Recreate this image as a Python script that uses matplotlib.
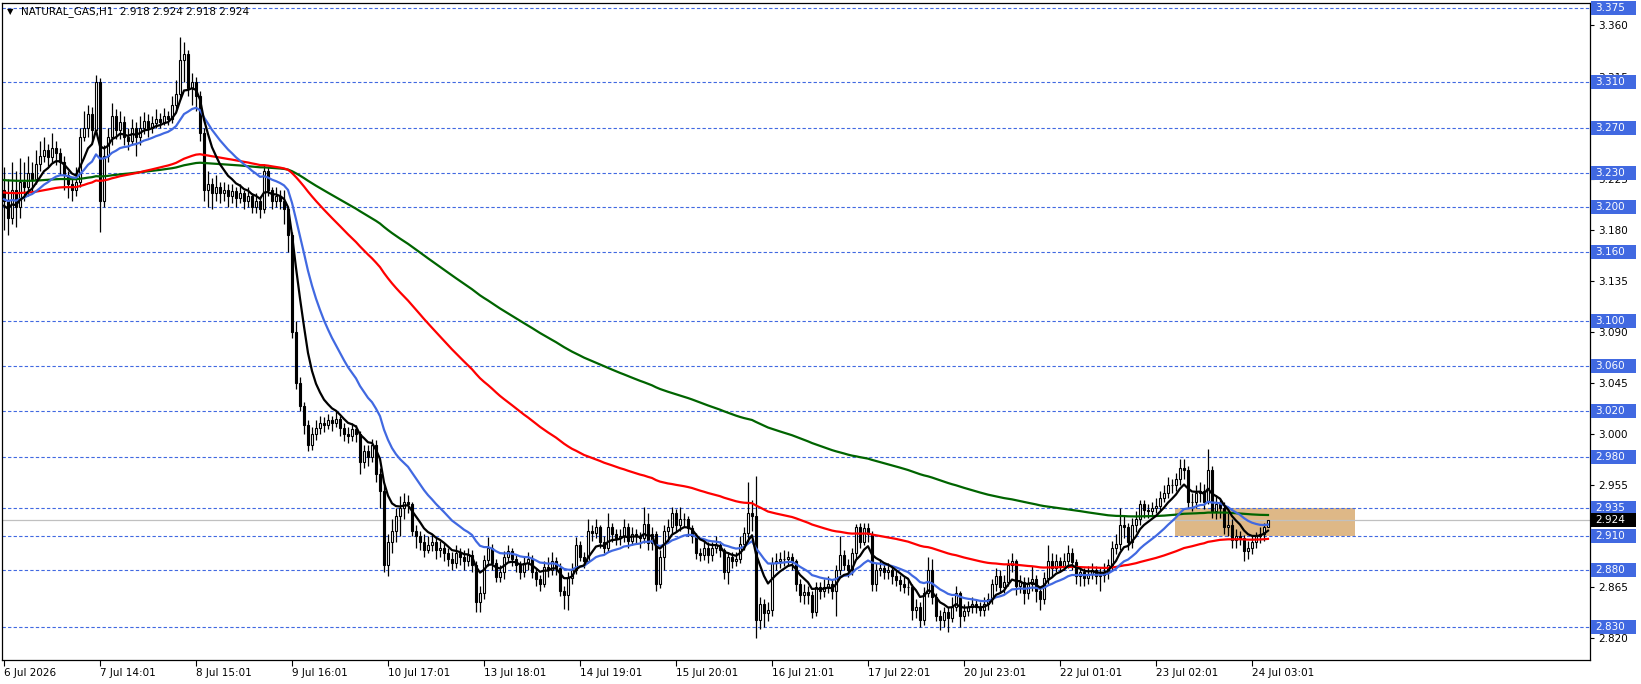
import numpy as np
import matplotlib
matplotlib.use('Agg')
import matplotlib.pyplot as plt
import matplotlib.transforms as mtransforms
from matplotlib.patches import Rectangle

# ---- data (hourly bars, NATURAL_GAS H1) ----
first_open = 3.215

closes = [
    3.205, 3.190, 3.215, 3.200, 3.222, 3.218, 3.230, 3.225, 3.238, 3.245,  # 0
    3.250, 3.244, 3.252, 3.248, 3.240, 3.228, 3.220, 3.215, 3.222, 3.262,  # 10
    3.270, 3.282, 3.268, 3.310, 3.205, 3.245, 3.262, 3.280, 3.268, 3.275,  # 20
    3.262, 3.258, 3.270, 3.262, 3.270, 3.276, 3.270, 3.274, 3.278, 3.275,  # 30
    3.280, 3.278, 3.290, 3.300, 3.330, 3.335, 3.305, 3.310, 3.298, 3.265,  # 40
    3.215, 3.220, 3.212, 3.218, 3.212, 3.215, 3.210, 3.214, 3.208, 3.212,  # 50
    3.205, 3.210, 3.200, 3.205, 3.198, 3.232, 3.215, 3.205, 3.210, 3.205,  # 60
    3.198, 3.175, 3.090, 3.045, 3.025, 3.008, 2.990, 3.000, 3.005, 3.010,  # 70
    3.008, 3.012, 3.010, 3.013, 3.005, 3.000, 2.998, 3.004, 3.000, 2.975,  # 80
    2.985, 2.980, 2.990, 2.965, 2.950, 2.885, 2.905, 2.915, 2.928, 2.935,  # 90
    2.940, 2.938, 2.915, 2.910, 2.905, 2.898, 2.902, 2.905, 2.898, 2.900,  # 100
    2.895, 2.890, 2.886, 2.895, 2.892, 2.888, 2.893, 2.885, 2.852, 2.860,  # 110
    2.889, 2.900, 2.886, 2.874, 2.878, 2.892, 2.897, 2.890, 2.885, 2.878,  # 120
    2.886, 2.890, 2.878, 2.872, 2.868, 2.883, 2.880, 2.888, 2.882, 2.862,  # 130
    2.858, 2.873, 2.880, 2.902, 2.892, 2.888, 2.915, 2.913, 2.918, 2.905,  # 140
    2.900, 2.918, 2.912, 2.908, 2.910, 2.918, 2.906, 2.912, 2.910, 2.908,  # 150
    2.921, 2.904, 2.912, 2.868, 2.892, 2.915, 2.918, 2.930, 2.920, 2.925,  # 160
    2.925, 2.917, 2.910, 2.895, 2.893, 2.900, 2.893, 2.900, 2.902, 2.898,  # 170
    2.878, 2.892, 2.888, 2.890, 2.903, 2.913, 2.930, 2.928, 2.836, 2.850,  # 180
    2.842, 2.845, 2.886, 2.888, 2.890, 2.890, 2.892, 2.888, 2.868, 2.858,  # 190
    2.861, 2.858, 2.843, 2.865, 2.862, 2.865, 2.868, 2.862, 2.880, 2.893,  # 200
    2.885, 2.880, 2.895, 2.918, 2.905, 2.917, 2.912, 2.868, 2.880, 2.882,  # 210
    2.878, 2.880, 2.875, 2.871, 2.868, 2.865, 2.865, 2.845, 2.848, 2.836,  # 220
    2.860, 2.880, 2.856, 2.840, 2.836, 2.843, 2.838, 2.848, 2.860, 2.840,  # 230
    2.844, 2.848, 2.850, 2.848, 2.845, 2.850, 2.855, 2.868, 2.875, 2.865,  # 240
    2.870, 2.885, 2.888, 2.866, 2.870, 2.860, 2.868, 2.872, 2.862, 2.855,  # 250
    2.873, 2.888, 2.882, 2.888, 2.884, 2.888, 2.895, 2.887, 2.875, 2.878,  # 260
    2.873, 2.877, 2.880, 2.875, 2.876, 2.878, 2.885, 2.900, 2.903, 2.920,  # 270
    2.918, 2.905, 2.920, 2.925, 2.938, 2.933, 2.932, 2.935, 2.937, 2.944,  # 280
    2.948, 2.955, 2.955, 2.960, 2.970, 2.968, 2.940, 2.940, 2.948, 2.950,  # 290
    2.940, 2.968, 2.932, 2.938, 2.935, 2.918, 2.920, 2.907, 2.910, 2.908,  # 300
    2.897, 2.900, 2.905, 2.910, 2.912, 2.918, 2.924,                       # 310
]

highs = [
    3.235, 3.225, 3.240, 3.232, 3.243, 3.240, 3.245, 3.240, 3.250, 3.258,
    3.262, 3.256, 3.265, 3.258, 3.252, 3.245, 3.232, 3.225, 3.235, 3.270,
    3.285, 3.290, 3.288, 3.316, 3.314, 3.255, 3.270, 3.292, 3.286, 3.285,
    3.280, 3.270, 3.278, 3.275, 3.280, 3.284, 3.282, 3.280, 3.286, 3.283,
    3.287, 3.285, 3.298, 3.312, 3.350, 3.345, 3.338, 3.318, 3.315, 3.302,
    3.270, 3.232, 3.226, 3.228, 3.222, 3.222, 3.220, 3.220, 3.218, 3.220,
    3.215, 3.218, 3.212, 3.212, 3.210, 3.238, 3.235, 3.218, 3.218, 3.215,
    3.215, 3.200, 3.178, 3.100, 3.050, 3.028, 3.012, 3.006, 3.012, 3.016,
    3.015, 3.018, 3.016, 3.020, 3.016, 3.010, 3.006, 3.010, 3.008, 3.003,
    2.990, 2.990, 2.996, 2.995, 2.970, 2.955, 2.912, 2.925, 2.935, 2.945,
    2.948, 2.946, 2.940, 2.920, 2.915, 2.912, 2.910, 2.912, 2.908, 2.906,
    2.904, 2.900, 2.896, 2.902, 2.900, 2.898, 2.900, 2.898, 2.888, 2.866,
    2.893, 2.909, 2.903, 2.890, 2.885, 2.897, 2.902, 2.900, 2.893, 2.888,
    2.892, 2.896, 2.893, 2.882, 2.876, 2.888, 2.892, 2.896, 2.892, 2.886,
    2.866, 2.878, 2.886, 2.909, 2.906, 2.896, 2.925, 2.920, 2.925, 2.920,
    2.910, 2.930, 2.922, 2.916, 2.916, 2.925, 2.922, 2.918, 2.916, 2.914,
    2.936, 2.930, 2.918, 2.915, 2.898, 2.920, 2.925, 2.936, 2.934, 2.936,
    2.930, 2.928, 2.920, 2.913, 2.900, 2.906, 2.905, 2.905, 2.910, 2.906,
    2.900, 2.896, 2.896, 2.896, 2.910, 2.918, 2.958, 2.942, 2.963, 2.856,
    2.855, 2.852, 2.892, 2.895, 2.896, 2.898, 2.897, 2.895, 2.890, 2.872,
    2.868, 2.866, 2.862, 2.870, 2.870, 2.872, 2.875, 2.872, 2.885, 2.910,
    2.898, 2.890, 2.900, 2.921, 2.922, 2.922, 2.922, 2.915, 2.886, 2.890,
    2.886, 2.886, 2.884, 2.880, 2.876, 2.874, 2.872, 2.868, 2.855, 2.852,
    2.865, 2.892, 2.890, 2.860, 2.845, 2.848, 2.848, 2.856, 2.866, 2.862,
    2.850, 2.853, 2.856, 2.855, 2.852, 2.856, 2.860, 2.872, 2.882, 2.880,
    2.876, 2.890, 2.895, 2.890, 2.876, 2.874, 2.874, 2.884, 2.876, 2.866,
    2.878, 2.902, 2.895, 2.894, 2.892, 2.895, 2.902, 2.900, 2.890, 2.884,
    2.882, 2.884, 2.886, 2.884, 2.882, 2.886, 2.890, 2.906, 2.912, 2.935,
    2.928, 2.922, 2.926, 2.932, 2.942, 2.942, 2.938, 2.940, 2.944, 2.950,
    2.955, 2.962, 2.960, 2.966, 2.978, 2.978, 2.972, 2.948, 2.955, 2.958,
    2.956, 2.987, 2.972, 2.946, 2.944, 2.940, 2.930, 2.925, 2.916, 2.915,
    2.911, 2.906, 2.910, 2.914, 2.918, 2.922, 2.924,
]

lows = [
    3.180, 3.175, 3.185, 3.182, 3.190, 3.205, 3.210, 3.212, 3.220, 3.232,
    3.240, 3.236, 3.240, 3.237, 3.228, 3.215, 3.208, 3.205, 3.210, 3.218,
    3.258, 3.262, 3.258, 3.265, 3.178, 3.200, 3.240, 3.255, 3.260, 3.260,
    3.255, 3.250, 3.255, 3.245, 3.255, 3.264, 3.262, 3.265, 3.270, 3.270,
    3.272, 3.272, 3.274, 3.285, 3.295, 3.310, 3.298, 3.290, 3.285, 3.258,
    3.205, 3.200, 3.198, 3.205, 3.204, 3.205, 3.200, 3.204, 3.200, 3.204,
    3.198, 3.200, 3.195, 3.195, 3.190, 3.195, 3.210, 3.198, 3.200, 3.198,
    3.185, 3.160, 3.085, 3.040, 3.020, 3.000, 2.985, 2.986, 2.995, 3.000,
    3.002, 3.004, 3.003, 3.006, 2.998, 2.994, 2.992, 2.994, 2.993, 2.965,
    2.970, 2.972, 2.975, 2.958, 2.935, 2.878, 2.875, 2.895, 2.905, 2.910,
    2.925, 2.930, 2.910, 2.900, 2.898, 2.892, 2.895, 2.897, 2.890, 2.892,
    2.888, 2.884, 2.880, 2.882, 2.885, 2.880, 2.884, 2.878, 2.843, 2.843,
    2.855, 2.884, 2.880, 2.870, 2.870, 2.872, 2.887, 2.884, 2.878, 2.872,
    2.874, 2.880, 2.873, 2.866, 2.862, 2.865, 2.874, 2.876, 2.876, 2.857,
    2.846, 2.845, 2.868, 2.877, 2.888, 2.882, 2.886, 2.906, 2.908, 2.900,
    2.895, 2.896, 2.905, 2.902, 2.902, 2.905, 2.900, 2.902, 2.904, 2.900,
    2.904, 2.898, 2.898, 2.862, 2.864, 2.880, 2.905, 2.912, 2.914, 2.915,
    2.918, 2.910, 2.904, 2.890, 2.888, 2.889, 2.886, 2.888, 2.895, 2.892,
    2.872, 2.868, 2.882, 2.884, 2.886, 2.898, 2.905, 2.915, 2.820, 2.828,
    2.830, 2.835, 2.840, 2.880, 2.882, 2.884, 2.884, 2.880, 2.862, 2.852,
    2.850, 2.850, 2.838, 2.840, 2.855, 2.856, 2.860, 2.855, 2.840, 2.876,
    2.880, 2.874, 2.876, 2.890, 2.900, 2.902, 2.905, 2.862, 2.862, 2.875,
    2.872, 2.872, 2.868, 2.866, 2.862, 2.860, 2.858, 2.836, 2.838, 2.830,
    2.832, 2.856, 2.850, 2.835, 2.827, 2.830, 2.826, 2.834, 2.844, 2.830,
    2.835, 2.840, 2.842, 2.842, 2.840, 2.840, 2.845, 2.850, 2.862, 2.860,
    2.860, 2.866, 2.878, 2.858, 2.860, 2.850, 2.855, 2.862, 2.852, 2.845,
    2.850, 2.868, 2.875, 2.878, 2.878, 2.880, 2.882, 2.880, 2.868, 2.866,
    2.866, 2.868, 2.872, 2.868, 2.862, 2.870, 2.872, 2.880, 2.894, 2.898,
    2.908, 2.898, 2.900, 2.914, 2.920, 2.926, 2.926, 2.928, 2.930, 2.932,
    2.940, 2.944, 2.948, 2.950, 2.955, 2.960, 2.935, 2.932, 2.935, 2.940,
    2.934, 2.938, 2.926, 2.925, 2.926, 2.912, 2.910, 2.900, 2.900, 2.902,
    2.888, 2.890, 2.894, 2.900, 2.904, 2.906, 2.918,
]

# moving averages: (period, value just before first visible bar, colour)
ma_specs = [(200, 3.224, '#006400'), (100, 3.213, '#FF0000'),
            (21, 3.207, '#4169E1'), (8, 3.200, '#000000')]

levels = [3.375, 3.310, 3.270, 3.230, 3.200, 3.160, 3.100, 3.060,
          3.020, 2.980, 2.935, 2.910, 2.880, 2.830]
last_price = 2.924
zone = (292.75, 337.75, 2.910, 2.935)   # bar from, bar to, low, high

tick_bars = list(range(0, 313, 24))
tick_labels = ['6 Jul 2026', '7 Jul 14:01', '8 Jul 15:01', '9 Jul 16:01',
               '10 Jul 17:01', '13 Jul 18:01', '14 Jul 19:01', '15 Jul 20:01',
               '16 Jul 21:01', '17 Jul 22:01', '20 Jul 23:01', '22 Jul 01:01',
               '23 Jul 02:01', '24 Jul 03:01']
price_ticks = [2.820, 2.865, 2.910, 2.955, 3.000, 3.045, 3.090, 3.135,
               3.180, 3.225, 3.270, 3.315, 3.360]

assert len(closes) == len(highs) == len(lows)

c = np.array(closes)
o = np.array([first_open] + closes[:-1])
h = np.array(highs)
l = np.array(lows)
x = np.arange(len(c))


def ema(vals, n, seed):
    a = 2.0 / (n + 1)
    out = []
    prev = seed
    for v in vals:
        prev = prev + a * (v - prev)
        out.append(prev)
    return np.array(out)


W, H = 1641, 684
plt.rcParams['font.family'] = ['DejaVu Sans']
fig = plt.figure(figsize=(W / 100, H / 100), dpi=100)
ax = fig.add_axes([2 / W, 24 / H, 1588 / W, 657 / H])
ax.set_xlim(-0.5, 396.5)
ax.set_ylim(2.8009, 3.3798)

# zone rectangle
ax.add_patch(Rectangle((zone[0], zone[2]), zone[1] - zone[0], zone[3] - zone[2],
                       fc='#DEB887', ec='none', zorder=1))

for lv in levels:
    ax.axhline(lv, color='#4169E1', lw=0.8, ls=(0, (3, 2)), zorder=2)
ax.axhline(last_price, color='#C0C0C0', lw=0.9, zorder=2)

# candles
ax.vlines(x, l, h, color='black', lw=0.9, zorder=3)
bull = c >= o
bear = ~bull
ax.bar(x[bull], (c - o)[bull], bottom=o[bull], width=0.62, color='white',
       edgecolor='black', linewidth=0.8, zorder=4)
ax.bar(x[bear], (c - o)[bear], bottom=o[bear], width=0.62, color='black',
       edgecolor='black', linewidth=0.8, zorder=4)

for n, seed, col in ma_specs:
    ax.plot(x, ema(c, n, seed), color=col, lw=1.6, zorder=6)

for s in ax.spines.values():
    s.set_color('black')
    s.set_linewidth(0.9)

ax.yaxis.tick_right()
ax.set_yticks(price_ticks)
ax.set_yticklabels(['%.3f' % p for p in price_ticks])
ax.tick_params(axis='y', direction='out', length=3, pad=3, labelsize=7.5)
ax.set_xticks(tick_bars)
ax.set_xticklabels(tick_labels, ha='left')
ax.tick_params(axis='x', direction='out', length=4, pad=2, labelsize=7.5)

# price labels boxes on the right
tr = mtransforms.blended_transform_factory(ax.transAxes, ax.transData)
bw = 45 / 1588
bh = 14 / 1135
for lv in levels + [last_price]:
    fc = 'black' if lv == last_price else '#4169E1'
    ax.add_patch(Rectangle((1.0008, lv - bh / 2), bw, bh, transform=tr,
                           fc=fc, ec='none', clip_on=False, zorder=7))
    ax.text(1.0008 + 4 / 1588, lv, '%.3f' % lv, transform=tr, color='white',
            fontsize=7.5, va='center', ha='left', clip_on=False, zorder=8)

fig.text(7 / W, 1 - 12 / H, '\u25bc', fontsize=6, va='center', ha='left')
fig.text(21 / W, 1 - 12 / H, 'NATURAL_GAS,H1  2.918 2.924 2.918 2.924',
         fontsize=7.5, va='center', ha='left')

fig.savefig('out.png', dpi=100)
